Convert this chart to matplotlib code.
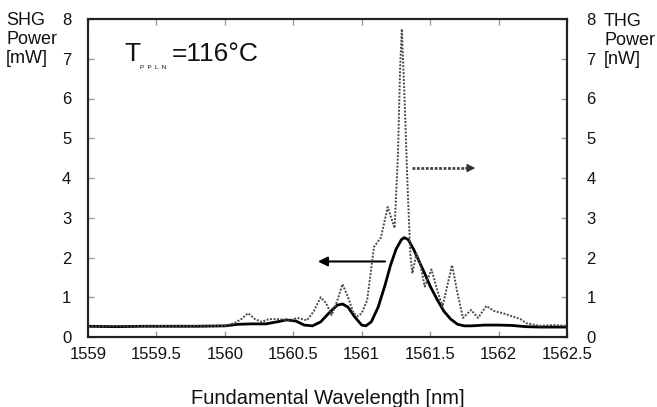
import matplotlib
matplotlib.use("Agg")
import matplotlib.pyplot as plt

plt.rcParams['font.family'] = ['Liberation Sans', 'DejaVu Sans']

# SHG (solid, left axis, mW)
shg_wl = [1559.0, 1559.2, 1559.4, 1559.6, 1559.8, 1560.0, 1560.1, 1560.2, 1560.3, 1560.38,
          1560.45, 1560.52, 1560.58, 1560.64, 1560.7, 1560.76, 1560.82, 1560.86, 1560.9, 1560.95,
          1561.0, 1561.03, 1561.07, 1561.12, 1561.17, 1561.21, 1561.25, 1561.29, 1561.31, 1561.34,
          1561.38, 1561.42, 1561.46, 1561.5, 1561.55, 1561.6, 1561.65, 1561.7, 1561.75, 1561.8,
          1561.9, 1562.0, 1562.1, 1562.2, 1562.3, 1562.4, 1562.5]
shg_pw = [0.27, 0.26, 0.27, 0.27, 0.27, 0.28, 0.32, 0.33, 0.33, 0.38,
          0.43, 0.40, 0.30, 0.28, 0.38, 0.60, 0.80, 0.83, 0.75, 0.50,
          0.30, 0.28, 0.38, 0.75, 1.30, 1.80, 2.20, 2.45, 2.50, 2.45,
          2.20, 1.90, 1.60, 1.28, 0.95, 0.65, 0.45, 0.32, 0.28, 0.28,
          0.30, 0.30, 0.29, 0.26, 0.25, 0.25, 0.25]

# THG (dotted, right axis, nW)
thg_wl = [1559.0, 1559.3, 1559.6, 1559.9, 1560.0, 1560.07, 1560.12, 1560.17, 1560.22, 1560.27,
          1560.32, 1560.4, 1560.47, 1560.53, 1560.6, 1560.65, 1560.7, 1560.74, 1560.78, 1560.82,
          1560.86, 1560.9, 1560.94, 1560.97, 1561.0, 1561.04, 1561.09, 1561.14, 1561.19, 1561.24,
          1561.265, 1561.28, 1561.293, 1561.31, 1561.335, 1561.355, 1561.37, 1561.40, 1561.43, 1561.46,
          1561.51, 1561.55, 1561.59, 1561.66, 1561.7, 1561.74, 1561.8, 1561.85, 1561.91, 1561.97,
          1562.03, 1562.1, 1562.16, 1562.2, 1562.3, 1562.4, 1562.5]
thg_pw = [0.27, 0.27, 0.28, 0.28, 0.28, 0.35, 0.45, 0.60, 0.45, 0.38,
          0.45, 0.45, 0.42, 0.48, 0.42, 0.65, 1.00, 0.85, 0.55, 0.90,
          1.33, 1.00, 0.60, 0.52, 0.60, 0.93, 2.27, 2.50, 3.27, 2.74,
          4.60, 6.70, 7.75, 6.30, 3.80, 2.10, 1.60, 2.10, 1.80, 1.27,
          1.70, 1.20, 0.76, 1.81, 1.10, 0.48, 0.68, 0.48, 0.78, 0.65,
          0.60, 0.52, 0.45, 0.35, 0.28, 0.30, 0.28]

x_ticks = [1559, 1559.5, 1560, 1560.5, 1561, 1561.5, 1562, 1562.5]
x_ticklabels = ['1559', '1559.5', '1560', '1560.5', '1561', '1561.5', '1562', '1562.5']
y_ticks = [0, 1, 2, 3, 4, 5, 6, 7, 8]

W, H = 657, 407
fig = plt.figure(figsize=(W / 100, H / 100), dpi=100)
ax = fig.add_axes([88 / W, 1 - 337 / H, (567 - 88) / W, (337 - 19) / H])
ax2 = ax.twinx()

ax.plot(shg_wl, shg_pw, color='black', lw=2.0, zorder=3)
ax2.plot(thg_wl, thg_pw, color='#4a4a4a', lw=1.4, linestyle=(0, (1, 0.8)), zorder=2)

ax.set_xlim(1559, 1562.5)
ax.set_ylim(0, 8)
ax2.set_ylim(0, 8)
ax.set_xticks(x_ticks)
ax.set_xticklabels(x_ticklabels)
ax.set_yticks(y_ticks)
ax2.set_yticks(y_ticks)

for a in (ax, ax2):
    for s in a.spines.values():
        s.set_linewidth(1.5)
        s.set_color('#222222')
ax.tick_params(axis='both', direction='in', labelsize=12, length=4, width=1, color='#999999',
               top=True, pad=6, labelcolor='#111111')
ax.tick_params(axis='x', pad=7)
ax.tick_params(axis='y', pad=12)
ax2.tick_params(axis='y', direction='in', labelsize=12, length=4, width=1, color='#999999',
                pad=14, labelcolor='#111111')

ax.set_xlabel('Fundamental Wavelength [nm]', fontsize=14.5, labelpad=20, color='#111111')

# side labels
fig.text(6 / W, 1 - 12 / H, 'SHG\nPower\n[mW]', fontsize=13, ha='left', va='top',
         linespacing=1.15, color='#111111')
fig.text(604 / W, 1 - 13 / H, 'THG\nPower\n[nW]', fontsize=13, ha='left', va='top',
         linespacing=1.15, color='#111111')

# temperature annotation
fig.text(124 / W, 1 - 61 / H, 'T', fontsize=19, ha='left', va='baseline', color='#111111')
fig.text(140 / W, 1 - 69 / H, 'P  P  L  N', fontsize=4.5, ha='left', va='baseline', color='#111111')
fig.text(172 / W, 1 - 61 / H, '=116°C', fontsize=19, ha='left', va='baseline', color='#111111')

# arrows
ax.annotate('', xy=(1560.68, 1.9), xytext=(1561.17, 1.9),
            arrowprops=dict(arrowstyle='-|>', color='black', lw=1.5,
                            mutation_scale=14, shrinkA=0, shrinkB=0))
ax2.plot([1561.37, 1561.76], [4.25, 4.25], color='#444444', lw=2.0, linestyle=(0, (1, 0.6)))
ax2.annotate('', xy=(1561.83, 4.25), xytext=(1561.76, 4.25),
             arrowprops=dict(arrowstyle='-|>', color='#333333', lw=1.0,
                             mutation_scale=12, shrinkA=0, shrinkB=0))

fig.savefig('out.png', dpi=100, facecolor='white')
